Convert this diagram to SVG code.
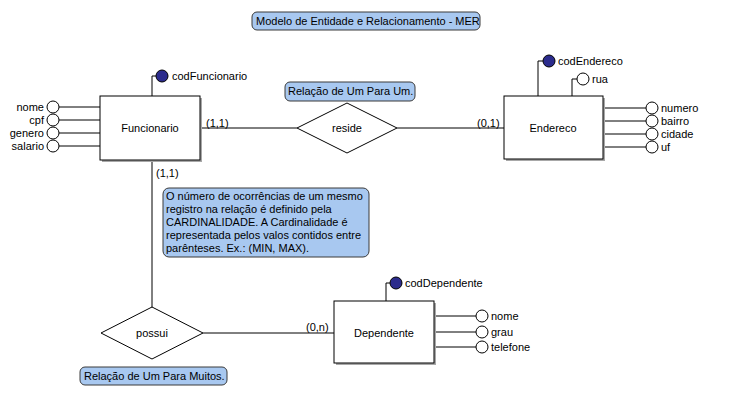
<svg xmlns="http://www.w3.org/2000/svg" width="730" height="418" viewBox="0 0 730 418">
<style>
text{font-family:"Liberation Sans",Arial,sans-serif;font-size:11px;fill:#000}
.ent{fill:#fff;stroke:#000;stroke-width:1}
.sh{fill:#a8a8a8}
.rel{fill:#fff;stroke:#000;stroke-width:1}
.ln{stroke:#000;stroke-width:1;fill:none}
.att{fill:#fff;stroke:#000;stroke-width:1}
.key{fill:#2b2b8c;stroke:#000;stroke-width:1}
.note{fill:#a8c8f0;stroke:#3a3a3a;stroke-width:1}
.mid{text-anchor:middle}
.end{text-anchor:end}
</style>
<rect width="730" height="418" fill="#fff"/>
<g id="title">
<rect class="note" x="252" y="12" width="228" height="18" rx="5"/>
<text x="256" y="25">Modelo de Entidade e Relacionamento - MER</text>
</g>
<g id="connectors">
<path class="ln" d="M200 128H297M397 128H504"/>
<path class="ln" d="M152 160V308M203 333H334"/>
<path class="ln" d="M152 96V76H156"/>
<path class="ln" d="M59 107H100M59 120H100M59 133H100M59 146H100"/>
<path class="ln" d="M538 96V61H543M572 96V79H577"/>
<path class="ln" d="M603 108H646M603 121H646M603 134H646M603 147H646"/>
<path class="ln" d="M386 301V283H390"/>
<path class="ln" d="M436 316H476M436 332H476M436 347H476"/>
<text x="206" y="127">(1,1)</text>
<text x="477" y="127">(0,1)</text>
<text x="156" y="177">(1,1)</text>
<text x="306" y="331">(0,n)</text>
</g>
<g id="Funcionario">
<rect class="sh" x="102" y="98" width="100" height="64"/>
<rect class="ent" x="100" y="96" width="100" height="64"/>
<text class="mid" x="150" y="132">Funcionario</text>
</g>
<g id="codFuncionario"><circle class="key" cx="162" cy="76" r="6"/><text x="172" y="80">codFuncionario</text></g>
<g id="attrsFuncionario">
<circle class="att" cx="53" cy="107" r="6"/><text class="end" x="44" y="111">nome</text>
<circle class="att" cx="53" cy="120" r="6"/><text class="end" x="44" y="124">cpf</text>
<circle class="att" cx="53" cy="133" r="6"/><text class="end" x="44" y="137">genero</text>
<circle class="att" cx="53" cy="146" r="6"/><text class="end" x="44" y="150">salario</text>
</g>
<g id="reside">
<polygon class="rel" points="297,128 347,103 397,128 347,153"/>
<text class="mid" x="347" y="132">reside</text>
</g>
<g id="noteUmUm">
<rect class="note" x="285" y="82" width="130" height="19" rx="5"/>
<text x="288" y="95">Relação de Um Para Um.</text>
</g>
<g id="Endereco">
<rect class="sh" x="506" y="98" width="99" height="63"/>
<rect class="ent" x="504" y="96" width="99" height="63"/>
<text class="mid" x="553" y="132">Endereco</text>
</g>
<g id="codEndereco"><circle class="key" cx="549" cy="61" r="6"/><text x="558" y="65">codEndereco</text></g>
<g id="rua"><circle class="att" cx="583" cy="79" r="6"/><text x="592" y="83">rua</text></g>
<g id="attrsEndereco">
<circle class="att" cx="652" cy="108" r="6"/><text x="661" y="112">numero</text>
<circle class="att" cx="652" cy="121" r="6"/><text x="661" y="125">bairro</text>
<circle class="att" cx="652" cy="134" r="6"/><text x="661" y="138">cidade</text>
<circle class="att" cx="652" cy="147" r="6"/><text x="661" y="151">uf</text>
</g>
<g id="noteCardinalidade">
<rect class="note" x="163" y="188" width="206" height="69" rx="6"/>
<text x="166" y="200">O número de ocorrências de um mesmo</text>
<text x="166" y="213">registro na relação é definido pela</text>
<text x="166" y="226">CARDINALIDADE. A Cardinalidade é</text>
<text x="166" y="239">representada pelos valos contidos entre</text>
<text x="166" y="252">parênteses. Ex.: (MIN, MAX).</text>
</g>
<g id="possui">
<polygon class="rel" points="101,333 152,307 203,333 152,359"/>
<text class="mid" x="152" y="337">possui</text>
</g>
<g id="noteUmMuitos">
<rect class="note" x="80" y="367" width="147" height="18" rx="5"/>
<text x="84" y="380">Relação de Um Para Muitos.</text>
</g>
<g id="Dependente">
<rect class="sh" x="336" y="303" width="100" height="62"/>
<rect class="ent" x="334" y="301" width="100" height="62"/>
<text class="mid" x="384" y="337">Dependente</text>
</g>
<g id="codDependente"><circle class="key" cx="396" cy="283" r="6"/><text x="405" y="287">codDependente</text></g>
<g id="attrsDependente">
<circle class="att" cx="482" cy="316" r="6"/><text x="491" y="320">nome</text>
<circle class="att" cx="482" cy="332" r="6"/><text x="491" y="336">grau</text>
<circle class="att" cx="482" cy="347" r="6"/><text x="491" y="351">telefone</text>
</g>
</svg>
